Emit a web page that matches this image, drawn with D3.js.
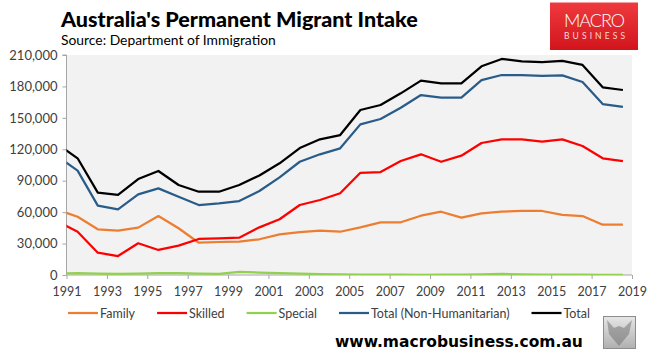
<!DOCTYPE html>
<html><head><meta charset="utf-8">
<script src="https://cdn.jsdelivr.net/npm/d3@7/dist/d3.min.js"></script>
<style>body{margin:0;background:#fff}</style>
</head><body>
<svg id="chart" width="660" height="362"></svg>
<script>
// Financial year end (1990-91 -> 1991 ... 2018-19 -> 2019)
const fyEnd = [1991,1992,1993,1994,1995,1996,1997,1998,1999,2000,2001,2002,2003,2004,2005,2006,2007,2008,2009,2010,2011,2012,2013,2014,2015,2016,2017,2018,2019];
const family = [62200,55600,43600,42300,45200,56300,44600,30800,31500,31800,34100,38800,41000,42300,41300,45500,50300,50300,56600,60400,54700,58900,60400,61100,61100,57300,56300,48000,48000];
const skilled = [51300,41300,21300,18100,30300,23900,28000,34400,35000,35600,45500,53200,66800,71600,78000,97600,98300,108800,115200,108100,113900,126000,129500,129500,127300,129500,123100,111400,108800];
const special = [1500,1800,1400,1100,1400,1700,1700,1400,1100,3000,2300,1800,1300,900,500,300,300,300,200,300,400,600,1100,500,300,300,300,200,200];
const totalNonHum = [113400,99600,66200,62700,77000,82700,74700,66800,68400,70600,80200,93200,108100,115200,120900,143800,148900,159700,171800,169300,169300,186000,190900,190900,190000,190600,184200,163200,160400];
const total = [125000,111400,78600,76500,91600,99300,85900,79500,79500,85900,95000,106600,121200,129500,133600,157500,162300,173400,185500,183000,183000,199200,206200,204000,203300,204300,200500,179200,176600];
const seriesNames = ["Family","Skilled","Special","Total (Non-Humanitarian)","Total"];
const seriesColors = ["#ED7D31","#FF0000","#92D050","#2A5C8A","#000000"];
const xTickYears = [1991,1993,1995,1997,1999,2001,2003,2005,2007,2009,2011,2013,2015,2017,2019];
const yTickValues = [0,30000,60000,90000,120000,150000,180000,210000];

const allSeries = [family, skilled, special, totalNonHum, total];
const svg = d3.select("#chart");
const plot = {left: 66.5, right: 632, top: 55, bottom: 275};
const FONT = "Lato, 'Open Sans', sans-serif";

svg.append("rect").attr("x", plot.left).attr("y", plot.top)
  .attr("width", plot.right - plot.left).attr("height", plot.bottom - plot.top)
  .attr("fill", "#f2f2f2");

const x = d3.scaleLinear().domain([1991, 2019]).range([plot.left, plot.right]);
const y = d3.scaleLinear().domain([0, 210000]).range([plot.bottom, plot.top]);
const xPos = fy => x(fy - 0.45);

const yAxis = d3.axisLeft(y).tickValues(yTickValues).tickSize(4).tickPadding(5)
  .tickFormat(d3.format(","));
const gy = svg.append("g").attr("transform", `translate(${plot.left},0)`).call(yAxis);
gy.select(".domain").attr("stroke", "#a6a6a6").attr("d", `M-4,${plot.top}H0V${plot.bottom}`);
gy.selectAll(".tick line").attr("stroke", "#a6a6a6");
gy.selectAll(".tick text").attr("fill", "#404040").style("font-family", FONT).style("font-size", "13px");

const xAxis = d3.axisBottom(x).tickValues(xTickYears).tickSize(4).tickPadding(8)
  .tickFormat(d3.format("d"));
const gx = svg.append("g").attr("transform", `translate(0,${plot.bottom})`).call(xAxis);
gx.select(".domain").attr("stroke", "#a6a6a6").attr("d", `M${plot.left},0H${plot.right}`);
gx.selectAll(".tick line").attr("stroke", "#a6a6a6");
gx.selectAll(".tick text").attr("fill", "#404040").style("font-family", FONT).style("font-size", "12.5px");

svg.append("clipPath").attr("id", "clip").append("rect")
  .attr("x", plot.left).attr("y", plot.top - 5)
  .attr("width", plot.right - plot.left).attr("height", plot.bottom - plot.top + 5);

const line = d3.line().x((d, i) => xPos(fyEnd[i])).y(d => y(d));
const gl = svg.append("g").attr("clip-path", "url(#clip)");
allSeries.forEach((s, k) => {
  gl.append("path").datum(s).attr("d", line).attr("fill", "none")
    .attr("stroke", seriesColors[k]).attr("stroke-width", 2.25)
    .attr("stroke-linejoin", "round");
});

let lx = 68;
const ly = 313;
seriesNames.forEach((n, k) => {
  svg.append("line").attr("x1", lx).attr("x2", lx + 30).attr("y1", ly).attr("y2", ly)
    .attr("stroke", seriesColors[k]).attr("stroke-width", 2.25);
  const t = svg.append("text").attr("x", lx + 32).attr("y", ly + 4.5)
    .attr("fill", "#404040").style("font-family", FONT).style("font-size", "12.5px").text(n);
  lx += 32 + t.node().getComputedTextLength() + 22;
});

function fit(sel, target) {
  const w = sel.node().getComputedTextLength();
  const fs = parseFloat(sel.style("font-size"));
  sel.style("font-size", (fs * target / w) + "px");
}

const title = svg.append("text").attr("x", 61).attr("y", 26.5)
  .style("font-family", FONT).style("font-weight", "900").style("font-size", "21px")
  .attr("fill", "#000").text("Australia's Permanent Migrant Intake");
fit(title, 357);
const sub = svg.append("text").attr("x", 61).attr("y", 44.5)
  .style("font-family", FONT).style("font-size", "14px")
  .attr("fill", "#000").text("Source: Department of Immigration");
fit(sub, 215);

// Logo
const defs = svg.append("defs");
const lg = defs.append("linearGradient").attr("id", "logoGrad").attr("x1", 0).attr("y1", 0).attr("x2", 0).attr("y2", 1);
lg.append("stop").attr("offset", "0%").attr("stop-color", "#ee3a3e");
lg.append("stop").attr("offset", "100%").attr("stop-color", "#d2151c");
svg.append("rect").attr("x", 550).attr("y", 2.5).attr("width", 88).attr("height", 47.5).attr("fill", "url(#logoGrad)");
svg.append("text").attr("x", 564).attr("y", 26.5)
  .style("font-family", FONT).style("font-weight", "300").style("font-size", "18px")
  .attr("textLength", 61).attr("lengthAdjust", "spacing")
  .attr("fill", "#fff").text("MACRO");
svg.append("text").attr("x", 564).attr("y", 38.5)
  .style("font-family", FONT).style("font-size", "8.5px")
  .attr("textLength", 61).attr("lengthAdjust", "spacing")
  .attr("fill", "#fbdada").text("BUSINESS");

// Footer
const ft = svg.append("text").attr("x", 335).attr("y", 347)
  .style("font-family", "'DejaVu Sans', Verdana, sans-serif").style("font-weight", "bold").style("font-size", "16px")
  .attr("fill", "#000").text("www.macrobusiness.com.au");
fit(ft, 248);

// Wolf icon (approximation)
const wg = defs.append("linearGradient").attr("id", "wolfGrad").attr("x1", 0).attr("y1", 0).attr("x2", 0).attr("y2", 1);
wg.append("stop").attr("offset", "0%").attr("stop-color", "#e6e6e6");
wg.append("stop").attr("offset", "100%").attr("stop-color", "#b0b0b0");
svg.append("rect").attr("x", 603.5).attr("y", 316.5).attr("width", 32).attr("height", 32)
  .attr("fill", "url(#wolfGrad)").attr("stroke", "#8c8c8c");
svg.append("path").attr("d", "M607,320 L614,328 L619,326 L624,328 L632,320 L629,334 L619,346 L609,334 Z")
  .attr("fill", "#6e6e6e").attr("opacity", 0.5);
</script>
</body></html>
